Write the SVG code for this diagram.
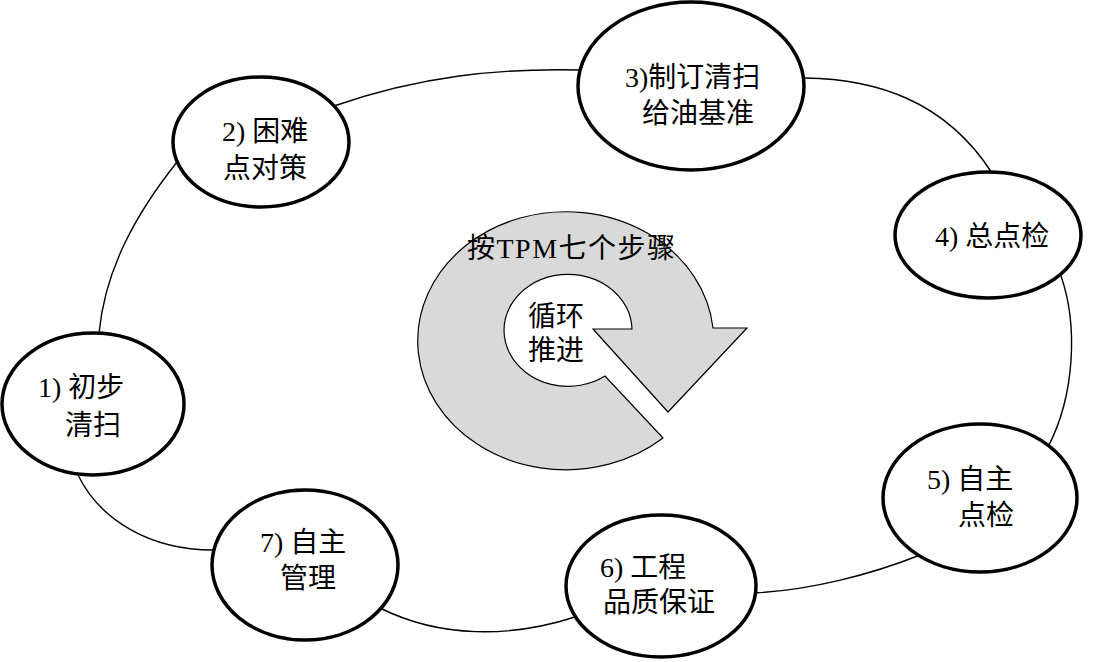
<svg xmlns="http://www.w3.org/2000/svg" width="1107" height="662" viewBox="0 0 1107 662">
<style>
.node{fill:#fff;stroke:#000;stroke-width:3.5}
.conn{fill:none;stroke:#000;stroke-width:1.4}
.t{font-family:"Liberation Serif","Noto Sans CJK SC",serif;font-size:28px;fill:#000}
</style>
<rect width="1107" height="662" fill="#fff"/>
<g id="connectors">
<path class="conn" d="M99,333 C105,270 135,215 177,162"/>
<path class="conn" d="M334,106 C420,76 500,68 580,70"/>
<path class="conn" d="M805,78 C875,79 945,100 992,173"/>
<path class="conn" d="M1061,276 C1078,325 1075,395 1048,447"/>
<path class="conn" d="M920,555 C870,575 810,590 755,593"/>
<path class="conn" d="M575,617 C510,638 440,638 380,608"/>
<path class="conn" d="M78,475 C100,520 150,550 213,550"/>
</g>
<g id="cycle">
<path d="M663,438 A148,129 0 1 1 713,328 L747,328 L668,412 L593,329 L632,329 A64,56 0 1 0 605,376 Z" fill="#d9d9d9" stroke="#000" stroke-width="1.2"/>
<text class="t" x="467" y="258" letter-spacing="1.5">按TPM七个步骤</text>
<text class="t" x="528" y="326" font-size="29">循环</text>
<text class="t" x="528" y="360" font-size="29">推进</text>
</g>
<g id="node1">
<ellipse class="node" cx="93" cy="404" rx="91" ry="71"/>
<text class="t" x="38" y="397">1) 初步</text>
<text class="t" x="65" y="435">清扫</text>
</g>
<g id="node2">
<ellipse class="node" cx="261" cy="142" rx="88" ry="65"/>
<text class="t" x="222" y="141">2) 困难</text>
<text class="t" x="223" y="178">点对策</text>
</g>
<g id="node3">
<ellipse class="node" cx="691" cy="86" rx="113" ry="84"/>
<text class="t" x="625" y="87">3)制订清扫</text>
<text class="t" x="642" y="123">给油基准</text>
</g>
<g id="node4">
<ellipse class="node" cx="988" cy="235" rx="93" ry="63"/>
<text class="t" x="935" y="246">4) 总点检</text>
</g>
<g id="node5">
<ellipse class="node" cx="980" cy="498" rx="97" ry="74"/>
<text class="t" x="927" y="489">5) 自主</text>
<text class="t" x="958" y="525">点检</text>
</g>
<g id="node6">
<ellipse class="node" cx="661" cy="586" rx="95" ry="71"/>
<text class="t" x="600" y="577">6) 工程</text>
<text class="t" x="603" y="612">品质保证</text>
</g>
<g id="node7">
<ellipse class="node" cx="305" cy="565" rx="93" ry="75"/>
<text class="t" x="260" y="552">7) 自主</text>
<text class="t" x="280" y="588">管理</text>
</g>
</svg>
